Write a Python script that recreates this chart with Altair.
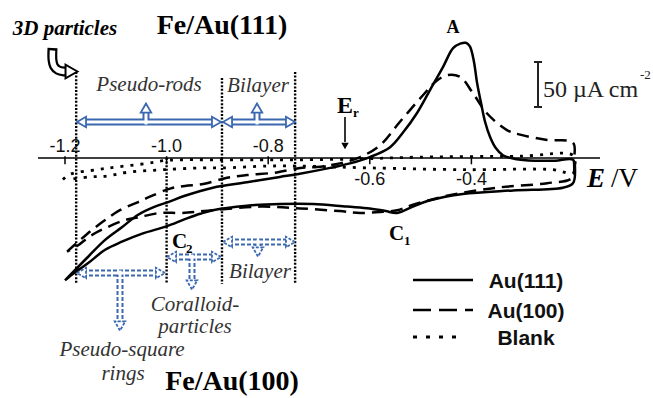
import altair as alt
import pandas as pd

# ---------------- data (E in V, j in uA cm^-2) ----------------
au111_E = [-1.200, -1.155, -1.121, -1.088, -1.056, -1.023, -0.997, -0.964, -0.909, -0.842,
           -0.777, -0.743, -0.678, -0.639, -0.600, -0.560, -0.535, -0.507, -0.481, -0.456,
           -0.436, -0.422, -0.411, -0.403, -0.395, -0.389, -0.381, -0.373, -0.363, -0.352,
           -0.338, -0.314, -0.275, -0.235, -0.200, -0.196, -0.200, -0.220, -0.318, -0.417,
           -0.481, -0.515, -0.546, -0.569, -0.600, -0.645, -0.712, -0.777, -0.842, -0.909,
           -0.934, -0.964, -1.001, -1.048, -1.088, -1.121, -1.155, -1.180, -1.200]
au111_j = [-136, -110, -91, -77, -63, -54, -49, -42, -33, -27,
           -21, -18, -11, -6, 1, 12, 28, 50, 76, 101,
           122, 127, 128, 124, 107, 84, 61, 40, 23, 11,
           3, -1, -3, -3, -2, -13, -28, -33, -36, -40,
           -47, -54, -61, -59, -56, -54, -51, -51, -53, -58,
           -62, -68, -76, -84, -93, -102, -117, -127, -136]

au100_E = [-1.196, -1.170, -1.147, -1.121, -1.092, -1.056, -1.033, -0.993, -0.964, -0.928,
           -0.881, -0.842, -0.783, -0.737, -0.704, -0.659, -0.619, -0.580, -0.541, -0.495,
           -0.472, -0.448, -0.422, -0.397, -0.370, -0.330, -0.304, -0.251, -0.200, -0.198,
           -0.202, -0.251, -0.350, -0.448, -0.515, -0.546, -0.580, -0.619, -0.659, -0.737,
           -0.816, -0.909, -0.970, -1.013, -1.056, -1.082, -1.121, -1.151, -1.174, -1.196]
au100_j = [-104, -91, -80, -69, -58, -49, -43, -34, -31, -29,
           -22, -19, -16, -11, -10, -6, 1, 14, 40, 70,
           84, 92, 90, 72, 50, 31, 26, 20, 17, -2,
           -22, -28, -33, -42, -52, -58, -60, -61, -59, -56,
           -54, -58, -61, -61, -66, -69, -78, -87, -97, -104]

blank_E = [-1.204, -1.190, -1.137, -1.098, -1.039, -1.007, -0.974, -0.909, -0.816, -0.737,
           -0.619, -0.501, -0.304, -0.200, -0.196, -0.200, -0.239, -0.409, -0.600, -0.737,
           -0.802, -0.889, -0.928, -1.007, -1.078, -1.117, -1.151, -1.196]
blank_j = [-24, -18, -13, -10, -6, -3, -2, -2, -2, -2,
           -1, 1, 2, 3, -8, -17, -13, -13, -11, -9,
           -9, -11, -11, -13, -16, -20, -21, -24]

tick_values = [-1.2, -1.0, -0.8, -0.6, -0.4]
tick_labels = ["-1.2", "-1.0", "-0.8", "-0.6", "-0.4"]
region_bounds = [-1.178, -1.0, -0.891, -0.747]
legend_names = ["Au(111)", "Au(100)", "Blank"]
scale_bar_value = 50

# ---------------- geometry helpers (picture position -> data units, annotations only) --------
def ex(px):
    return -1.2 + (px - 65) / 508.0

def jy(py):
    return (158 - py) / 0.9

W, H = 653, 398
xs = alt.Scale(domain=[ex(0), ex(W)], nice=False, zero=False)
ys = alt.Scale(domain=[jy(H), jy(0)], nice=False, zero=False)

SERIF = "Liberation Serif"
SANS = "Liberation Sans"
BLUE = "#3a68b0"
GREY = "#333333"


def XQ(f):
    return alt.X(f + ":Q", scale=xs, axis=None)


def YQ(f):
    return alt.Y(f + ":Q", scale=ys, axis=None)


def curve(E, J, **style):
    df = pd.DataFrame({"E": E, "j": J, "i": list(range(len(E)))})
    return alt.Chart(df).mark_line(color="black", interpolate="catmull-rom",
                                   strokeCap="butt", **style).encode(
        x=XQ("E"), y=YQ("j"), order="i:Q")


def rules(rows, **style):
    df = pd.DataFrame(rows, columns=["x", "x2", "y", "y2"])
    return alt.Chart(df).mark_rule(**style).encode(
        x=XQ("x"), x2="x2:Q", y=YQ("y"), y2="y2:Q")


def heads(rows, shape, **style):
    df = pd.DataFrame(rows, columns=["x", "y"])
    return alt.Chart(df).mark_point(shape=shape, filled=True, opacity=1, **style).encode(
        x=XQ("x"), y=YQ("y"))


def texts(rows, size, weight="normal", style="normal", align="center",
          color="black", font=SERIF):
    df = pd.DataFrame(rows, columns=["t", "x", "y"])
    return alt.Chart(df).mark_text(font=font, fontSize=size, fontWeight=weight,
                                   fontStyle=style, align=align, baseline="alphabetic",
                                   color=color).encode(x=XQ("x"), y=YQ("y"), text="t:N")


layers = []

# vertical dotted region boundaries
tops = [jy(72), 0, jy(78), jy(72)]
layers.append(rules([(e, e, t, jy(284)) for e, t in zip(region_bounds, tops)],
                    color="black", strokeWidth=2.4, strokeDash=[2, 1.6]))

# axis line, ticks and tick labels
layers.append(rules([(ex(38), ex(600), 0, 0)], color="black", strokeWidth=1.6))
layers.append(rules([(v, v, 2, -7) for v in tick_values], color="black", strokeWidth=1.5))
lab_rows = []
for v, t in zip(tick_values, tick_labels):
    lab_rows.append((t, v, jy(152) if v <= -0.8 else jy(185)))
layers.append(texts(lab_rows, 18, font=SANS, color="#111111"))

# curves
layers.append(curve(blank_E, blank_j, strokeWidth=2.8, strokeDash=[3, 7]))
layers.append(curve(au100_E, au100_j, strokeWidth=2.5, strokeDash=[12, 7]))
layers.append(curve(au111_E, au111_j, strokeWidth=2.5))

# ---------------- blue region arrows ----------------
up_rows = [(ex(77), ex(221), jy(122)), (ex(223), ex(295), jy(122))]
up_stems = [(ex(146), jy(122), jy(111)), (ex(257), jy(122), jy(111))]
lo_rows = [(ex(77), ex(165), jy(273)), (ex(167), ex(221), jy(257)), (ex(223), ex(295), jy(242))]
lo_stems = [(ex(120), jy(273), jy(322)), (ex(192), jy(257), jy(281)), (ex(258), jy(242), jy(248))]

def hshafts(rows, pad, **st):
    return rules([(a + pad, b - pad, y, y) for a, b, y in rows], **st)

def vshafts(rows, **st):
    return rules([(x, x, y1, y2) for x, y1, y2 in rows], **st)

pad = 6 / 508.0
layers.append(hshafts(up_rows, pad, color=BLUE, strokeWidth=7))
layers.append(vshafts(up_stems, color=BLUE, strokeWidth=7))
layers.append(hshafts(lo_rows, pad, color=BLUE, strokeWidth=7, strokeDash=[4, 2]))
layers.append(vshafts(lo_stems, color=BLUE, strokeWidth=7, strokeDash=[4, 2]))
layers.append(hshafts(up_rows, pad - 4 / 508.0, color="white", strokeWidth=3))
layers.append(vshafts([(x, y1 - 2.5 / 0.9, y2) for x, y1, y2 in up_stems], color="white", strokeWidth=3))
layers.append(hshafts(lo_rows, pad - 4 / 508.0, color="white", strokeWidth=3))
layers.append(vshafts([(x, y1 + 2.5 / 0.9, y2) for x, y1, y2 in lo_stems], color="white", strokeWidth=3))

hs = dict(fill="white", stroke=BLUE, strokeWidth=1.8, size=110)
layers.append(heads([(a + 4.5 / 508, y) for a, b, y in up_rows], "triangle-left", **hs))
layers.append(heads([(b - 4.5 / 508, y) for a, b, y in up_rows], "triangle-right", **hs))
layers.append(heads([(x, y2 + 3 / 0.9) for x, y1, y2 in up_stems], "triangle-up", **hs))
hsd = dict(fill="white", stroke=BLUE, strokeWidth=1.8, size=110, strokeDash=[3, 1.5])
layers.append(heads([(a + 4.5 / 508, y) for a, b, y in lo_rows], "triangle-left", **hsd))
layers.append(heads([(b - 4.5 / 508, y) for a, b, y in lo_rows], "triangle-right", **hsd))
layers.append(heads([(x, y2 - 4 / 0.9) for x, y1, y2 in lo_stems], "triangle-down", **hsd))

# ---------------- black hollow hook arrow for "3D particles" ----------------
hook_px = [(52.5, 48), (52.5, 60), (54, 66), (58, 70), (64, 71.5), (68, 71.5)]
hook = pd.DataFrame({"x": [ex(p) for p, q in hook_px], "y": [jy(q) for p, q in hook_px],
                     "i": list(range(len(hook_px)))})
layers.append(alt.Chart(hook).mark_line(color="black", strokeWidth=10, strokeCap="butt",
                                        interpolate="catmull-rom").encode(
    x=XQ("x"), y=YQ("y"), order="i:Q"))
hook_in = hook.copy()
hook_in.loc[0, "y"] = jy(50.5)
layers.append(alt.Chart(hook_in).mark_line(color="white", strokeWidth=5.5, strokeCap="butt",
                                           interpolate="catmull-rom").encode(
    x=XQ("x"), y=YQ("y"), order="i:Q"))
layers.append(heads([(ex(71.5), jy(71.5))], "triangle-right", fill="white", stroke="black",
                    strokeWidth=2, size=190))

# ---------------- E_r arrow ----------------
layers.append(rules([(ex(345), ex(345), jy(117), jy(142))], color="black", strokeWidth=1.6))
layers.append(heads([(ex(345), jy(146))], "triangle-down", color="black", size=55))

# ---------------- scale bar ----------------
sb_x = ex(538)
sb_lo = jy(107)
sb_hi = sb_lo + scale_bar_value
layers.append(rules([(sb_x, sb_x, sb_lo, sb_hi),
                     (ex(534), ex(542), sb_lo, sb_lo),
                     (ex(534), ex(542), sb_hi, sb_hi)], color="#222222", strokeWidth=2))
layers.append(texts([("50 \u00b5A cm", ex(543), jy(97))], 24, align="left", color="#222222"))
layers.append(texts([("-2", ex(640), jy(79))], 13, align="left", color="#222222"))

# ---------------- labels ----------------
layers.append(texts([("Fe/Au(111)", ex(222), jy(34)), ("Fe/Au(100)", ex(232), jy(390))],
                    28, weight="bold"))
layers.append(texts([("3D particles", ex(65), jy(35))], 21, weight="bold", style="italic"))
layers.append(texts([("Pseudo-rods", ex(149), jy(91)), ("Bilayer", ex(258), jy(92)),
                     ("Bilayer", ex(260), jy(278)), ("Coralloid-", ex(195), jy(311)),
                     ("particles", ex(195), jy(333)), ("Pseudo-square", ex(122), jy(356)),
                     ("rings", ex(123), jy(380))], 21, style="italic", color=GREY))
layers.append(texts([("A", ex(453), jy(33))], 18, weight="bold"))
layers.append(texts([("E", ex(337), jy(113))], 24, weight="bold", align="left"))
layers.append(texts([("C", ex(389), jy(240)), ("C", ex(172), jy(248))],
                    21, weight="bold", align="left"))
layers.append(texts([("r", ex(353), jy(117)), ("1", ex(404), jy(245)), ("2", ex(186), jy(253))],
                    13, weight="bold", align="left"))
layers.append(texts([("E", ex(587), jy(187))], 27, weight="bold", style="italic", align="left"))
layers.append(texts([("/V", ex(611), jy(187))], 27, align="left"))

# ---------------- legend ----------------
leg_y = [jy(280), jy(310), jy(337)]
layers.append(rules([(ex(413), ex(473), leg_y[0], leg_y[0])], color="black", strokeWidth=2.6))
layers.append(rules([(ex(413), ex(473), leg_y[1], leg_y[1])], color="black", strokeWidth=2.6,
                    strokeDash=[18, 8]))
layers.append(rules([(ex(413), ex(462), leg_y[2], leg_y[2])], color="black", strokeWidth=3,
                    strokeDash=[4, 9]))
layers.append(texts([(n, ex(526), jy(b)) for n, b in zip(legend_names, [288, 318, 345])],
                    21, weight="bold", font=SANS, color="#111111"))

chart = alt.layer(*layers).properties(
    width=W, height=H, padding=0, autosize=alt.AutoSizeParams(type="none"),
    background="white"
).configure_view(stroke=None)

chart.save("out.html", embed_options={"renderer": "svg", "actions": False})
